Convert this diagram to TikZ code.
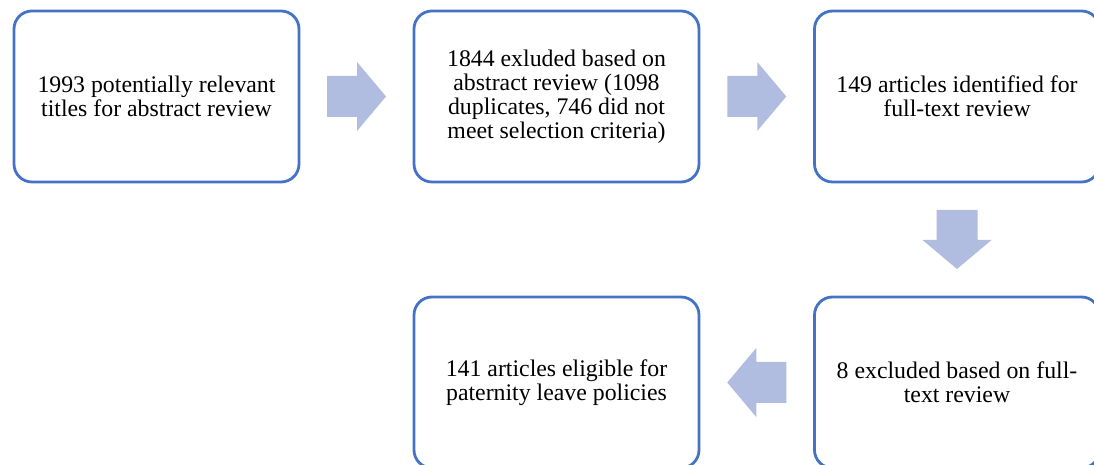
\documentclass[tikz,border=0pt]{standalone}
\usepackage{fontspec}
\setmainfont{Liberation Serif}
\usetikzlibrary{calc}
\definecolor{boxblue}{HTML}{4472C4}
\definecolor{arrowfill}{HTML}{B0BCE0}
\tikzset{
  x=1pt, y=1pt,
  stepbox/.style={draw=boxblue, line width=2.8pt, rounded corners=18pt, fill=white,
    minimum width=285pt, minimum height=171pt, align=center, inner sep=0pt,
    font=\fontsize{23.8}{24}\selectfont, text=black},
  blockarrow/.pic={\fill[arrowfill] (-29.5,-20.5) -- (0.5,-20.5) -- (0.5,-34.5) -- (29.5,0) -- (0.5,34.5) -- (0.5,20.5) -- (-29.5,20.5) -- cycle;}
}
\begin{document}
\begin{tikzpicture}
\useasboundingbox (0,0) rectangle (1094,465);
\begin{scope}
\clip (0,0) rectangle (1094,465);
\node[stepbox] (b1) at (156.5,368.5) {1993 potentially relevant\\titles for abstract review};
\node[stepbox] (b2) at (556.5,368.5) {1844 exluded based on\\abstract review (1098\\duplicates, 746 did not\\meet selection criteria)};
\node[stepbox] (b3) at (957,368.5) {149 articles identified for\\full-text review};
\node[stepbox] (b4) at (957,82.5) {8 excluded based on full-\\text review};
\node[stepbox] (b5) at (556.5,82.5) {141 articles eligible for\\paternity leave policies};
\end{scope}
\pic at ($(b1.east)!0.5!(b2.west)$) {blockarrow};
\pic at ($(b2.east)!0.5!(b3.west)$) {blockarrow};
\pic[rotate=-90] at ($(b3.south)!0.5!(b4.north)$) {blockarrow};
\pic[rotate=180] at ($(b4.west)!0.5!(b5.east)$) {blockarrow};
\end{tikzpicture}
\end{document}
